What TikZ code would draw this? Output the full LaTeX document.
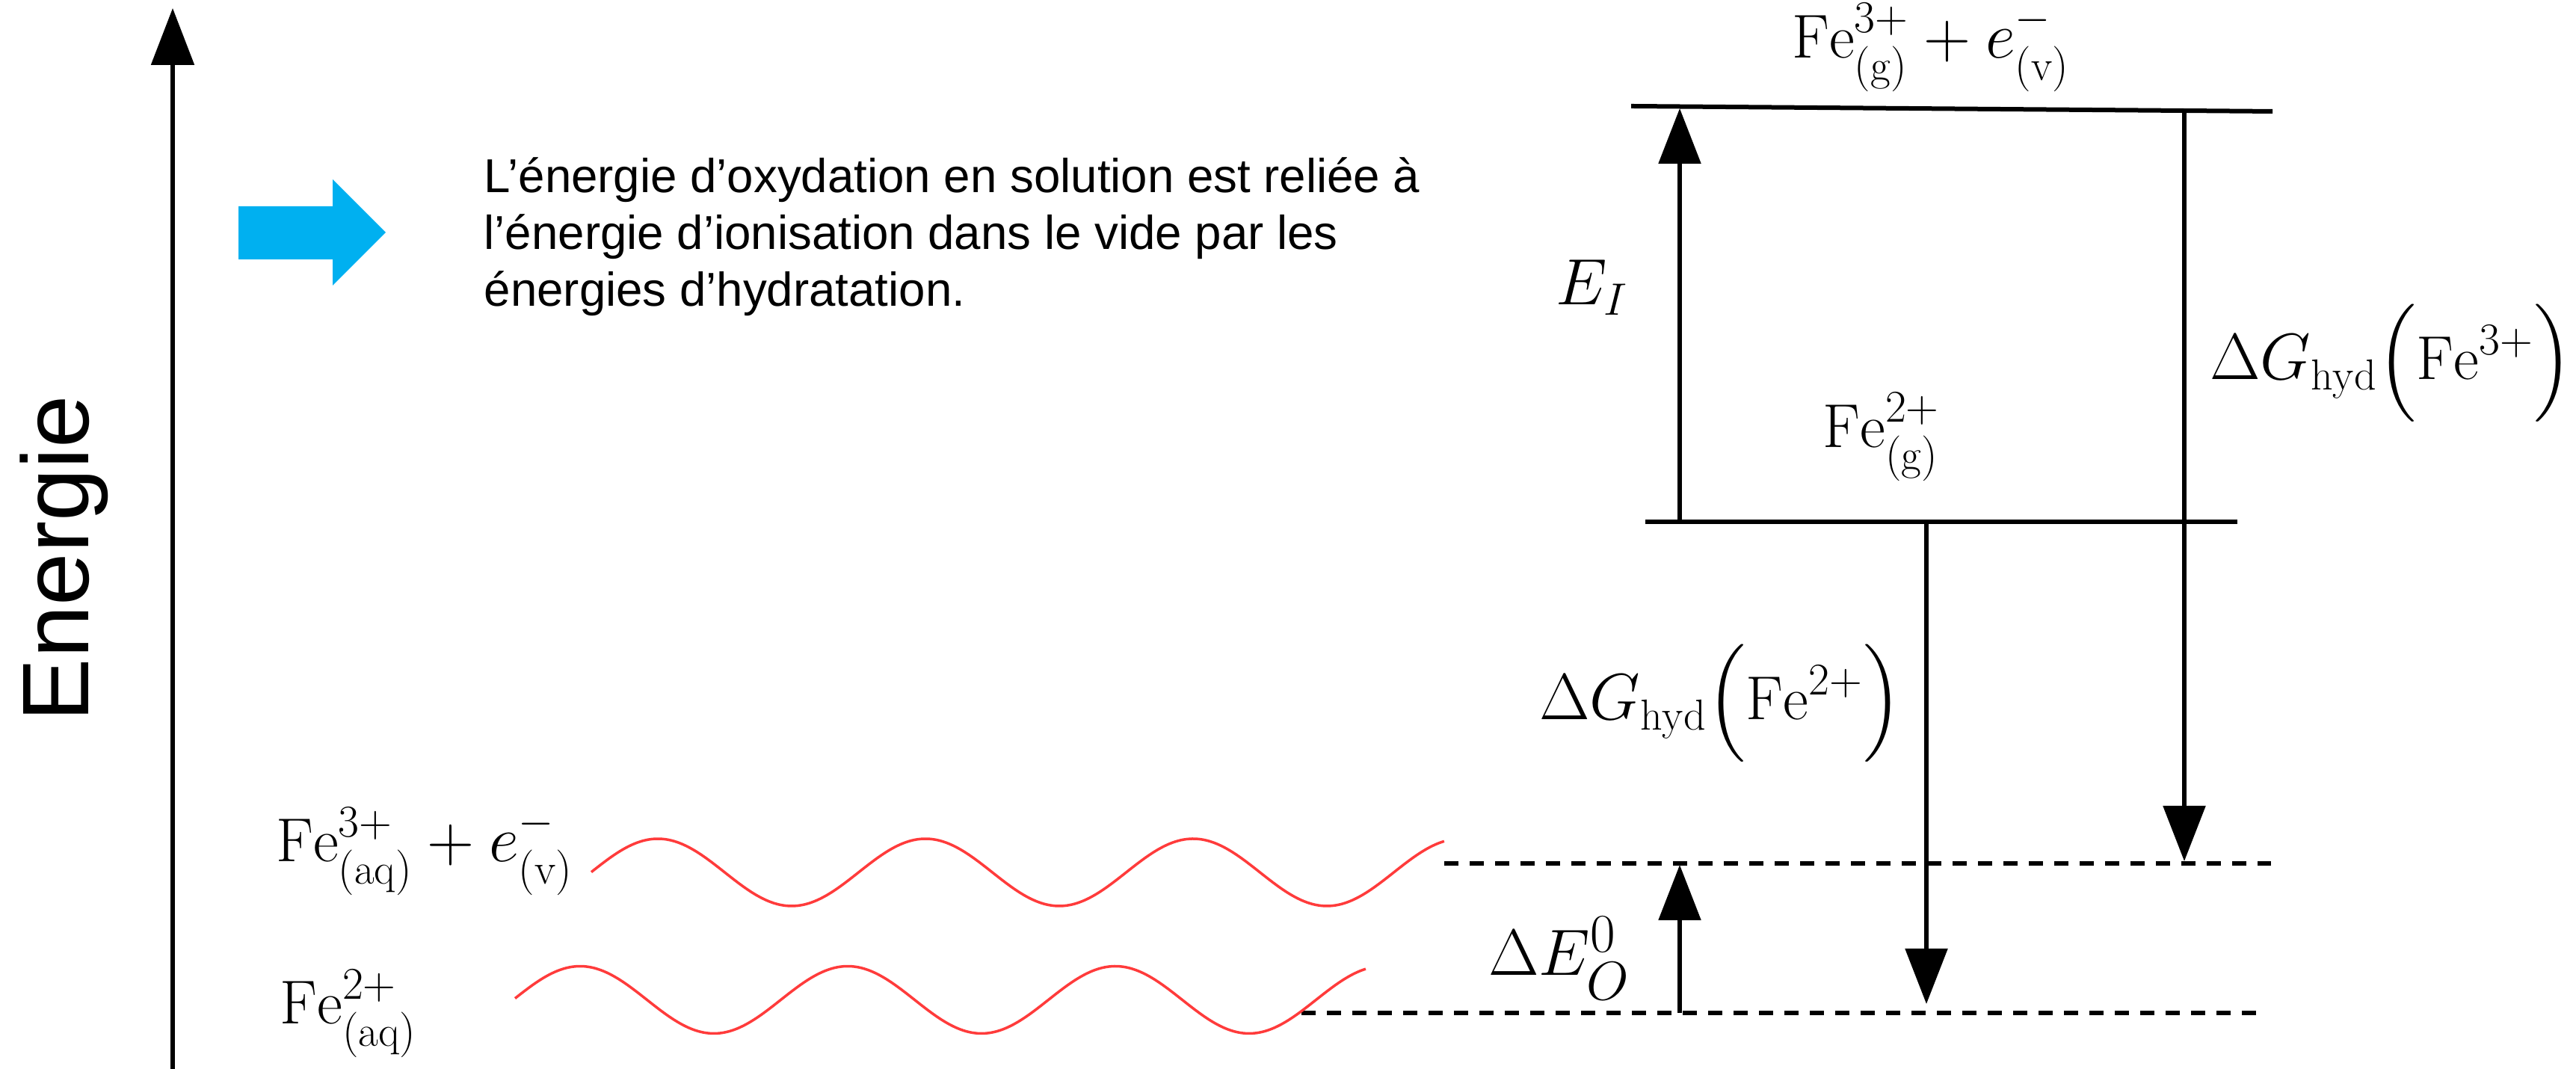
\documentclass[tikz,border=0pt]{standalone}
\usepackage{amsmath}
\usepackage{fontspec}
\usepackage{tikz}
\usetikzlibrary{arrows.meta,calc}
\newfontfamily\arialfont{Liberation Sans}
\definecolor{ink}{HTML}{000000}
\definecolor{wavered}{HTML}{FF3B3B}
\definecolor{hintblue}{HTML}{00B0F0}
\tikzset{
  levelline/.style={draw=ink, line width=0.06cm},
  dashlevel/.style={draw=ink, line width=0.055cm, dash pattern=on 0.19cm off 0.15cm},
  transarrow/.style={draw=ink, line width=0.055cm,
    -{Triangle[length=0.74cm, width=0.56cm]}},
  wavy/.style={draw=wavered, line width=0.035cm},
  chemlabel/.style={inner sep=0pt, anchor=base,
    font=\fontsize{23.6}{28}\selectfont},
  axislabel/.style={inner sep=0pt, anchor=base, rotate=90,
    font=\arialfont\fontsize{36}{40}\selectfont},
  notetext/.style={inner sep=0pt, align=left,
    font=\arialfont\fontsize{18.1}{21.6}\selectfont}
}

\begin{document}
\begin{tikzpicture}
\useasboundingbox (0,0) rectangle (34.46,14.30);

% axe des energies
\coordinate (axisfoot) at (2.31,0);
\coordinate (axistip) at (2.31,14.19);
\draw[transarrow, -{Triangle[length=0.76cm, width=0.57cm]}] (axisfoot) -- (axistip);
\node[axislabel] (energie) at (1.18,6.83) {Energie};

% remarque
\fill[hintblue] (3.19,11.54) -- (4.45,11.54) -- (4.45,11.90) -- (5.16,11.19)
  -- (4.45,10.48) -- (4.45,10.83) -- (3.19,10.83) -- cycle;
\node[notetext, anchor=north west] (note) at (6.47,12.20) {%
  L’énergie d’oxydation en solution est reliée à\\
  l’énergie d’ionisation dans le vide par les\\
  énergies d’hydratation.};

% niveaux en phase gazeuse
\coordinate (gtopL) at (21.82,12.88);
\coordinate (gtopR) at (30.40,12.81);
\coordinate (gmidL) at (22.01,7.32);
\coordinate (gmidR) at (29.93,7.32);
\draw[levelline] (gtopL) -- (gtopR);
\draw[levelline] (gmidL) -- (gmidR);

% niveaux en solution
\coordinate (aqtopL) at (19.32,2.75);
\coordinate (aqtopR) at (30.38,2.75);
\coordinate (aqlowL) at (17.41,0.75);
\coordinate (aqlowR) at (30.24,0.75);
\draw[dashlevel] (aqtopL) -- (aqtopR);
\draw[dashlevel] (aqlowL) -- (aqlowR);

\draw[wavy] plot[domain=7.91:19.32, samples=150, smooth]
  (\x, {2.63+0.45*sin(360*(\x-7.905)/3.58)});
\draw[wavy] plot[domain=6.89:18.27, samples=150, smooth]
  (\x, {0.925+0.45*sin(360*(\x-6.865)/3.58)});

% transitions
\coordinate (eifoot) at (22.47,7.32);
\coordinate (eitip) at (22.47,12.85);
\coordinate (hydthreefoot) at (29.22,12.82);
\coordinate (hydthreetip) at (29.22,2.78);
\coordinate (hydtwofoot) at (25.77,7.32);
\coordinate (hydtwotip) at (25.77,0.87);
\coordinate (oxfoot) at (22.47,0.75);
\coordinate (oxtip) at (22.47,2.73);
\draw[transarrow] (eifoot) -- (eitip);
\draw[transarrow] (hydthreefoot) -- (hydthreetip);
\draw[transarrow] (hydtwofoot) -- (hydtwotip);
\draw[transarrow] (oxfoot) -- (oxtip);

% etiquettes
\node[chemlabel] (fethreegas) at (25.83,13.52)
  {$\mathrm{Fe}^{3+}_{(\mathrm{g})}+e^{-}_{(\mathrm{v})}$};
\node[chemlabel] (fetwogas) at (25.17,8.31) {$\mathrm{Fe}^{2+}_{(\mathrm{g})}$};
\node[chemlabel] (ei) at (21.30,10.22) {$E_I$};
\node[chemlabel] (hydthree) at (31.99,9.22)
  {$\Delta G_{\mathrm{hyd}}\Bigl(\mathrm{Fe}^{3+}\Bigr)$};
\node[chemlabel] (hydtwo) at (23.02,4.67)
  {$\Delta G_{\mathrm{hyd}}\Bigl(\mathrm{Fe}^{2+}\Bigr)$};
\node[chemlabel, font=\fontsize{29}{34}\selectfont] (oxzero) at (20.86,1.25)
  {$\Delta E_O^0$};
\node[chemlabel] (fethreeaq) at (5.68,2.77)
  {$\mathrm{Fe}^{3+}_{(\mathrm{aq})}+e^{-}_{(\mathrm{v})}$};
\node[chemlabel] (fetwoaq) at (4.66,0.60) {$\mathrm{Fe}^{2+}_{(\mathrm{aq})}$};
\end{tikzpicture}
\end{document}
